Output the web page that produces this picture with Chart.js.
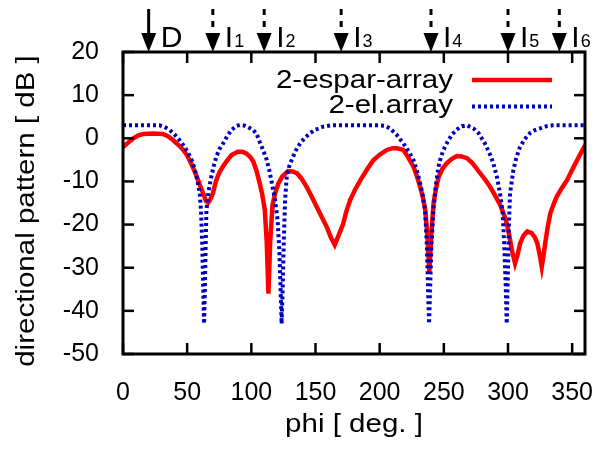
<!DOCTYPE html>
<html>
<head>
<meta charset="utf-8">
<script src="https://cdn.jsdelivr.net/npm/chart.js@4/dist/chart.umd.min.js"></script>
<style>
    html, body { margin: 0; padding: 0; background: #fff; }
    canvas { display: block; }
</style>
</head>
<body>
<canvas id="myChart" width="606" height="454"></canvas>
<script>
// 2-espar-array (measured pattern)
const esparPhi = [0, 4, 8, 12, 16, 24, 31, 35, 39, 43, 47, 50, 53, 56, 58.5, 60.5, 62.5, 64.5, 66.3, 68, 70, 72.5, 75, 78, 81, 84.5, 89.5, 93, 96, 99, 101.5, 104, 106.5, 108.5, 110.5, 112, 113.3, 114.7, 116.5, 118.5, 121, 124, 128.5, 132, 135.5, 139, 143, 147, 151, 155, 159, 162, 165, 168, 171.5, 174, 177, 181, 185, 190, 195, 200, 205.5, 210, 213.5, 218.5, 222, 226.3, 229, 231.5, 233.5, 235.5, 237.3, 238.7, 240.3, 242, 244, 246, 249, 252.3, 256, 260, 264, 268, 272, 275, 278.3, 282, 286, 290, 294, 297, 299, 301, 303, 305.5, 307.5, 309.5, 312, 315, 318.5, 321, 323, 325, 326.3, 328, 329, 331, 333, 335.5, 338, 342, 346, 350, 354, 357, 360];
const esparDb = [-2, -1, 0, 0.7, 1, 1.1, 1, 0.5, -0.4, -1.5, -2.7, -4, -5.8, -7.8, -9.7, -11.3, -12.8, -14.5, -15, -14.2, -12.8, -9.9, -8, -6.5, -5.2, -3.9, -3.1, -3.1, -3.5, -4.3, -5.4, -7.5, -10.4, -13, -16.6, -24, -36, -24, -15.5, -12.8, -10.5, -8.9, -7.6, -7.7, -8.1, -9.3, -11.2, -13.5, -15.9, -18.3, -20.7, -23, -24.7, -22.5, -19.9, -17, -14.3, -11.8, -9.7, -7.3, -5.1, -3.8, -2.7, -2.3, -2.3, -2.7, -4.3, -6.6, -8.8, -11.2, -13.5, -16.6, -23, -31, -22, -15, -11.5, -8.9, -7, -5.8, -4.8, -4.1, -4.2, -4.6, -5.7, -6.8, -8.1, -9.5, -11.2, -13.3, -15.5, -17.8, -19.7, -22.5, -25.9, -29, -27, -24.3, -22.6, -21.6, -22, -23, -24.5, -27.5, -29.8, -26.5, -24.3, -20.5, -17.4, -15.3, -13.5, -11.5, -9.7, -7.3, -5, -3.3, -1.6];

// 2-el.array (reference pattern)
const elPhi = [0, 10, 20, 28.5, 32.5, 36.5, 40.5, 44, 47.5, 51, 54, 56, 58, 59.8, 60.8, 61.8, 62.5, 63.2, 63.8, 64.4, 65, 66.5, 68.8, 70.8, 72.7, 75, 78, 81, 84.5, 88, 91, 94, 97.5, 101.5, 104, 107, 109, 112, 114, 116, 118.5, 120.5, 121.8, 122.8, 123.6, 124.4, 125.2, 126.3, 127.6, 129.5, 131.5, 134.5, 138, 142, 145.8, 150, 156, 162, 170, 180, 190, 200, 204, 208, 213, 218.5, 222.5, 226.3, 229, 231.5, 233.5, 235.4, 236.8, 237.7, 238.5, 239.3, 240.3, 241.9, 243.8, 245.8, 247.7, 249.7, 252.9, 256.2, 260, 264, 268, 273, 277, 282, 285.5, 288.6, 291.4, 293.8, 295.8, 297, 298.2, 299, 299.8, 300.7, 301.6, 304.2, 306.7, 309.4, 313, 317.2, 321, 325, 330, 335, 345, 360];
const elDb = [3, 3, 3, 3, 2.6, 1.9, 0.8, -0.4, -1.8, -3.5, -5.4, -7.3, -9.8, -12.8, -17, -25, -35, -43, -35, -25, -16.6, -12.5, -8.9, -6.3, -4.3, -2.6, -1.2, 0.4, 1.9, 2.8, 3.1, 3, 2.6, 1.9, 1.1, -1.2, -2.6, -5, -7.4, -10.4, -14.3, -19, -26, -35, -43, -35, -25, -14.3, -8.9, -6.5, -5, -2.9, -1.2, 0.2, 1.2, 2, 2.7, 3, 3, 3, 3, 3, 2.9, 2.3, 0.9, -1.2, -3, -5, -7.5, -10.4, -13.1, -16.6, -25, -35, -43, -35, -25, -16.6, -11, -6.6, -4.4, -2.7, -0.8, 0.8, 2, 2.8, 3, 2.3, 1.2, -1.2, -3.4, -5.8, -9, -12.8, -17, -24.3, -34, -43, -33, -20, -12.8, -7.3, -4.3, -2, -0.2, 1.2, 1.9, 2.3, 2.8, 3, 3, 3];

const xTickValues = [0, 50, 100, 150, 200, 250, 300, 350];
const yTickValues = [-50, -40, -30, -20, -10, 0, 10, 20];

// arrows on top: desired signal and interferers
const markerPhi = [20, 70, 110, 170, 240, 300, 340];
const markerName = ['D', 'I', 'I', 'I', 'I', 'I', 'I'];
const markerSub = ['', '1', '2', '3', '4', '5', '6'];

const seriesLabels = ['2-espar-array', '2-el.array'];

const FONT = '"Liberation Sans", Arial, Helvetica, sans-serif';
const STRETCH = 1.18;

function wideText(ctx, text, x, y, align) {
    const w = ctx.measureText(text).width * STRETCH;
    let left = x;
    if (align === 'right') left = x - w;
    if (align === 'center') left = x - w / 2;
    ctx.save();
    ctx.translate(left, y);
    ctx.scale(STRETCH, 1);
    ctx.textAlign = 'left';
    ctx.fillText(text, 0, 0);
    ctx.restore();
}

function line(ctx, x1, y1, x2, y2) {
    ctx.beginPath();
    ctx.moveTo(x1, y1);
    ctx.lineTo(x2, y2);
    ctx.stroke();
}

const decorations = {
    id: 'decorations',
    afterDraw(chart) {
        const ctx = chart.ctx;
        const ca = chart.chartArea;
        const xs = chart.scales.x;
        const ys = chart.scales.y;
        ctx.save();
        ctx.strokeStyle = '#000';
        ctx.fillStyle = '#000';

        // inward ticks on all four sides
        ctx.lineWidth = 2.5;
        xTickValues.forEach(v => {
            const px = xs.getPixelForValue(v);
            line(ctx, px, ca.bottom, px, ca.bottom - 11);
            line(ctx, px, ca.top, px, ca.top + 11);
        });
        yTickValues.forEach(v => {
            const py = ys.getPixelForValue(v);
            line(ctx, ca.left, py, ca.left + 11, py);
            line(ctx, ca.right, py, ca.right - 11, py);
        });

        // frame
        ctx.lineWidth = 3;
        ctx.strokeRect(ca.left, ca.top, ca.right - ca.left, ca.bottom - ca.top);

        // axis titles
        ctx.font = '25px ' + FONT;
        ctx.textBaseline = 'alphabetic';
        wideText(ctx, 'phi [ deg. ]', (ca.left + ca.right) / 2, 432, 'center');
        ctx.save();
        ctx.translate(34, (ca.top + ca.bottom) / 2 + 8);
        ctx.rotate(-Math.PI / 2);
        wideText(ctx, 'directional pattern [ dB ]', 0, 0, 'center');
        ctx.restore();

        // legend
        const lx = ca.right - 132;
        wideText(ctx, seriesLabels[0], lx, ca.top + 36, 'right');
        wideText(ctx, seriesLabels[1], lx, ca.top + 61, 'right');
        ctx.lineWidth = 4.5;
        ctx.strokeStyle = '#ff0000';
        line(ctx, ca.right - 113, ca.top + 28, ca.right - 33, ca.top + 28);
        ctx.lineWidth = 4;
        ctx.strokeStyle = '#0000c0';
        ctx.setLineDash([3, 3]);
        line(ctx, ca.right - 113, ca.top + 54.5, ca.right - 33, ca.top + 54.5);
        ctx.setLineDash([]);

        // arrows above the plot
        ctx.strokeStyle = '#000';
        ctx.lineWidth = 3;
        markerPhi.forEach((phi, i) => {
            const px = xs.getPixelForValue(phi);
            const tip = ca.top;
            if (i === 0) {
                line(ctx, px, tip - 43, px, tip - 17);
            } else {
                line(ctx, px, tip - 43, px, tip - 37);
                line(ctx, px, tip - 31, px, tip - 25);
            }
            ctx.beginPath();
            ctx.moveTo(px - 7.5, tip - 19);
            ctx.lineTo(px + 7.5, tip - 19);
            ctx.lineTo(px, tip);
            ctx.closePath();
            ctx.fill();

            ctx.textAlign = 'left';
            ctx.font = '30px ' + FONT;
            ctx.fillText(markerName[i], px + 12, tip - 5);
            if (markerSub[i]) {
                const w = ctx.measureText(markerName[i]).width;
                ctx.font = '18px ' + FONT;
                ctx.fillText(markerSub[i], px + 13 + w, tip - 5);
            }
        });
        ctx.restore();
    }
};

const ctx = document.getElementById('myChart');
new Chart(ctx, {
    type: 'line',
    data: {
        datasets: [
            {
                label: seriesLabels[0],
                data: esparPhi.map((p, i) => ({ x: p, y: esparDb[i] })),
                borderColor: '#ff0000',
                borderWidth: 4.5,
                pointRadius: 0,
                tension: 0,
                order: 2
            },
            {
                label: seriesLabels[1],
                data: elPhi.map((p, i) => ({ x: p, y: elDb[i] })),
                borderColor: '#0000c0',
                borderWidth: 4,
                borderDash: [3, 3],
                pointRadius: 0,
                tension: 0,
                order: 1
            }
        ]
    },
    options: {
        responsive: false,
        animation: false,
        layout: { padding: { top: 52, right: 21, left: 0, bottom: 0 } },
        plugins: {
            legend: { display: false },
            tooltip: { enabled: false },
            title: { display: false }
        },
        scales: {
            x: {
                type: 'linear',
                min: 0,
                max: 360,
                afterBuildTicks: (scale) => { scale.ticks = xTickValues.map(v => ({ value: v })); },
                afterFit: (scale) => {
                    scale.height = 100;
                    scale.paddingLeft = 0;
                    scale.paddingRight = 0;
                },
                grid: { display: false },
                border: { display: false },
                ticks: {
                    color: '#000',
                    padding: 16,
                    maxRotation: 0,
                    autoSkip: false,
                    font: { size: 25, family: FONT }
                }
            },
            y: {
                type: 'linear',
                min: -50,
                max: 20,
                afterBuildTicks: (scale) => { scale.ticks = yTickValues.map(v => ({ value: v })); },
                afterFit: (scale) => { scale.width = 123; },
                grid: { display: false },
                border: { display: false },
                ticks: {
                    color: '#000',
                    padding: 16,
                    autoSkip: false,
                    font: { size: 25, family: FONT }
                }
            }
        }
    },
    plugins: [decorations]
});
</script>
</body>
</html>
